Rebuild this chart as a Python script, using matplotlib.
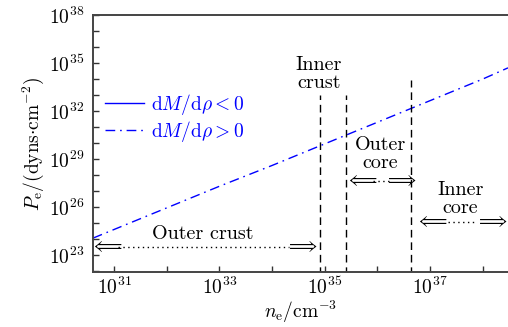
import numpy as np
import matplotlib
matplotlib.use("Agg")
import matplotlib.pyplot as plt

plt.rcParams["font.family"] = "serif"
plt.rcParams["font.serif"] = ["cmr10"]
plt.rcParams["mathtext.fontset"] = "cm"
plt.rcParams["axes.formatter.use_mathtext"] = True
plt.rcParams["axes.unicode_minus"] = False

# electron pressure vs electron number density (log10 values)
log_n = [30.6, 31.0, 32.0, 33.0, 34.0, 35.0, 36.0, 37.0, 38.0, 38.48]
log_p = [24.06, 24.6, 25.95, 27.3, 28.6, 29.95, 31.3, 32.65, 34.0, 34.7]
# dM/drho < 0 branch: not visible in the figure
log_n_neg = []
log_p_neg = []

# region boundaries (log10 n_e) and the tops of their dashed markers (log10 P)
bound_n = [34.91, 35.40, 36.64]
bound_top = [33.0, 33.0, 33.93]

# region labels: text, log n centre, log P centre
regions = ["Outer crust", "Inner\ncrust", "Outer\ncore", "Inner\ncore"]
region_n = [32.69, 34.89, 36.05, 37.58]
region_p = [24.34, 34.3, 29.3, 26.5]

# extent arrows: left arrow, dots start, dots end, right arrow, height
span_left = [30.85, 35.69, 37.02]
span_d0 = [31.08, 35.92, 37.34]
span_d1 = [34.32, 36.22, 37.87]
span_right = [34.55, 36.43, 38.16]
span_p = [23.53, 27.65, 25.08]

fig = plt.figure(figsize=(5.08, 3.27), dpi=100)
ax = fig.add_axes([0.183, 0.168, 0.817, 0.786])

ax.plot(10.0 ** np.array(log_n_neg), 10.0 ** np.array(log_p_neg), "-",
        color="blue", lw=1.0, label=r"$\mathrm{d}M/\mathrm{d}\rho<0$")
ax.plot(10.0 ** np.array(log_n), 10.0 ** np.array(log_p),
        color="blue", lw=1.0, ls=(0, (7, 3.5, 1.2, 3.5)),
        label=r"$\mathrm{d}M/\mathrm{d}\rho>0$")

for xn, top in zip(bound_n, bound_top):
    ax.plot([10 ** xn, 10 ** xn], [1e21, 10 ** top], color="k",
            lw=1.0, ls=(0, (5.5, 3.5)))

for t, xn, yp in zip(regions, region_n, region_p):
    ax.text(10 ** xn, 10 ** yp, t, ha="center", va="center", fontsize=14.5,
            linespacing=1.0)

for a, d0, d1, b, yp in zip(span_left, span_d0, span_d1, span_right, span_p):
    ax.text(10 ** a, 10 ** yp, r"$\Longleftarrow$", ha="center",
            va="center", fontsize=13)
    ax.text(10 ** b, 10 ** yp, r"$\Longrightarrow$", ha="center",
            va="center", fontsize=13)
    ax.plot([10 ** d0, 10 ** d1], [10 ** yp, 10 ** yp], color="k",
            lw=1.0, ls=(0, (1, 2.5)))

ax.set_xscale("log")
ax.set_yscale("log")
ax.set_xlim(10 ** 30.6, 10 ** 38.48)
ax.set_ylim(10 ** 21.94, 1e38)
ax.set_xticks([1e31, 1e33, 1e35, 1e37])
ax.set_xticks([1e32, 1e34, 1e36, 1e38], minor=True)
ax.set_yticks([1e23, 1e26, 1e29, 1e32, 1e35, 1e38])
ax.set_yticks([10.0 ** k for k in range(22, 38) if k % 3 != 2], minor=True)
ax.yaxis.set_minor_formatter(matplotlib.ticker.NullFormatter())
ax.xaxis.set_minor_formatter(matplotlib.ticker.NullFormatter())
ax.tick_params(which="both", direction="in", length=4, width=1.0,
               labelsize=14, colors="#333333", labelcolor="k")
ax.tick_params(axis="y", pad=6)
ax.tick_params(which="both", right=False, top=False)
ax.spines["right"].set_visible(False)
for s in ("left", "bottom", "top"):
    ax.spines[s].set_linewidth(1.4)
    ax.spines[s].set_color("#444444")

ax.set_xlabel(r"$n_{\rm e}/{\rm cm^{-3}}$", fontsize=14, labelpad=0)
ax.set_ylabel(r"$P_{\rm e}/({\rm dyns{\cdot}cm^{-2}})$", fontsize=14,
              labelpad=2)

leg = ax.legend(loc="upper left", bbox_to_anchor=(0.0, 0.745), frameon=False,
                fontsize=14, handlelength=2.0, handletextpad=0.4,
                labelspacing=0.1, borderaxespad=0.2)
for txt in leg.get_texts():
    txt.set_color("blue")

fig.savefig("out.png", dpi=100)
